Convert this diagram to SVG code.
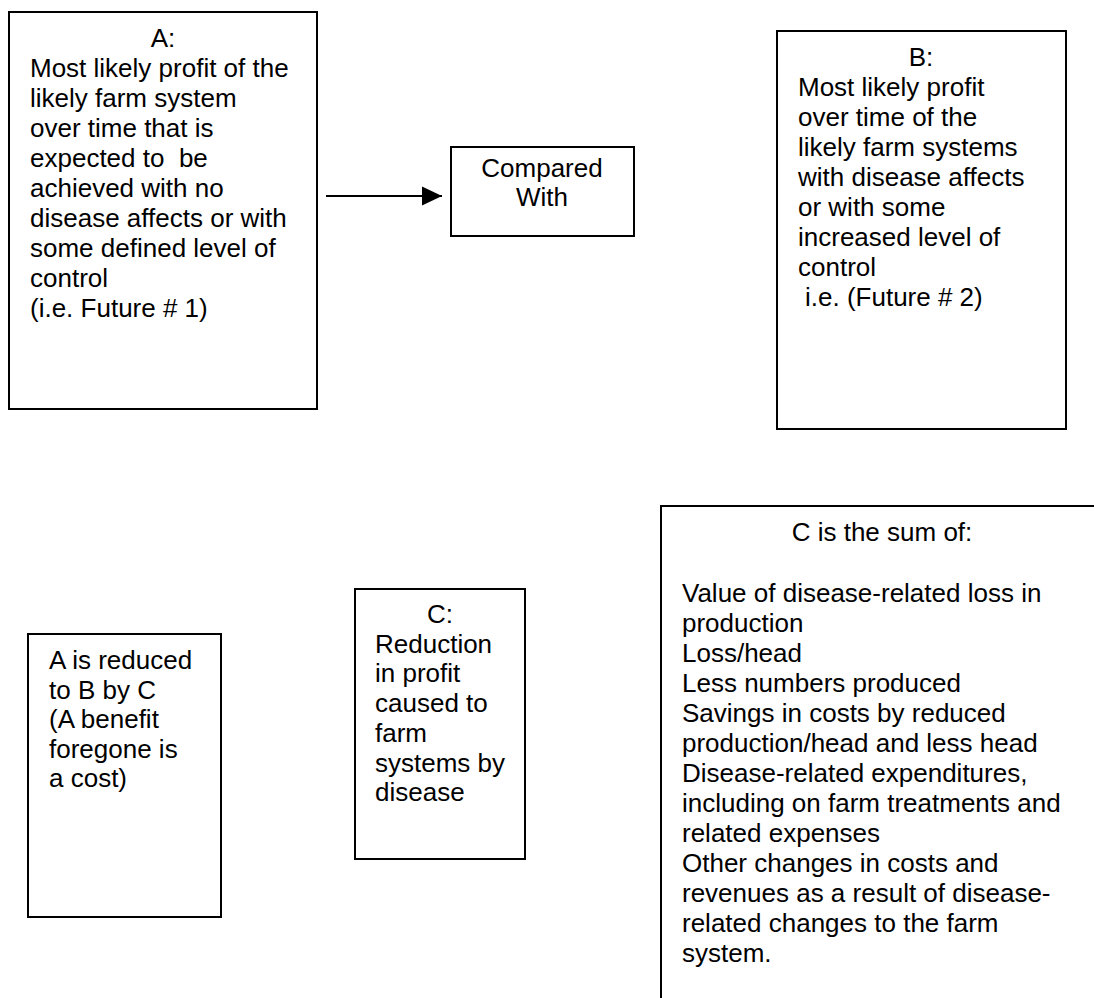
<svg xmlns="http://www.w3.org/2000/svg" width="1094" height="998" viewBox="0 0 1094 998">
<style>
.box{fill:#fff;stroke:#000;stroke-width:2}
.t{font-family:"Liberation Sans",Arial,sans-serif;font-size:26px;fill:#000}
.c{text-anchor:middle}
.conn{stroke:#000;stroke-width:2;fill:none}
</style>
<defs>
<marker id="arr" markerWidth="20" markerHeight="20" refX="20" refY="10" orient="auto" markerUnits="userSpaceOnUse">
<path d="M0,0.5 L20,10 L0,19.5 Z" fill="#000"/>
</marker>
</defs>
<rect width="1094" height="998" fill="#fff"/>
<g id="nodeA">
<rect class="box" x="9" y="12" width="308" height="397"/>
<text class="t c" x="163" y="47">A:</text>
<text class="t" x="30" y="77">Most likely profit of the</text>
<text class="t" x="30" y="107">likely farm system</text>
<text class="t" x="30" y="137">over time that is</text>
<text class="t" x="30" y="167" xml:space="preserve">expected to  be</text>
<text class="t" x="30" y="197">achieved with no</text>
<text class="t" x="30" y="227">disease affects or with</text>
<text class="t" x="30" y="257">some defined level of</text>
<text class="t" x="30" y="287">control</text>
<text class="t" x="30" y="317">(i.e. Future # 1)</text>
</g>
<g id="nodeCompared">
<rect class="box" x="451" y="147" width="183" height="89"/>
<text class="t c" x="542" y="177">Compared</text>
<text class="t c" x="542" y="206">With</text>
</g>
<g id="nodeB">
<rect class="box" x="777" y="31" width="289" height="398"/>
<text class="t c" x="921" y="66">B:</text>
<text class="t" x="798" y="96">Most likely profit</text>
<text class="t" x="798" y="126">over time of the</text>
<text class="t" x="798" y="156">likely farm systems</text>
<text class="t" x="798" y="186">with disease affects</text>
<text class="t" x="798" y="216">or with some</text>
<text class="t" x="798" y="246">increased level of</text>
<text class="t" x="798" y="276">control</text>
<text class="t" x="805" y="306">i.e. (Future # 2)</text>
</g>
<g id="nodeReduced">
<rect class="box" x="28" y="634" width="193" height="283"/>
<text class="t" x="49" y="669">A is reduced</text>
<text class="t" x="49" y="698.6">to B by C</text>
<text class="t" x="49" y="728.2">(A benefit</text>
<text class="t" x="49" y="757.8">foregone is</text>
<text class="t" x="49" y="787.4">a cost)</text>
</g>
<g id="nodeC">
<rect class="box" x="355" y="589" width="170" height="270"/>
<text class="t c" x="440" y="623">C:</text>
<text class="t" x="375" y="652.7">Reduction</text>
<text class="t" x="375" y="682.4">in profit</text>
<text class="t" x="375" y="712.1">caused to</text>
<text class="t" x="375" y="741.8">farm</text>
<text class="t" x="375" y="771.5">systems by</text>
<text class="t" x="375" y="801.2">disease</text>
</g>
<g id="nodeSum">
<rect class="box" x="661" y="506" width="442" height="520"/>
<text class="t c" x="882" y="541">C is the sum of:</text>
<text class="t" x="682" y="602">Value of disease-related loss in</text>
<text class="t" x="682" y="632">production</text>
<text class="t" x="682" y="662">Loss/head</text>
<text class="t" x="682" y="692">Less numbers produced</text>
<text class="t" x="682" y="722">Savings in costs by reduced</text>
<text class="t" x="682" y="752">production/head and less head</text>
<text class="t" x="682" y="782">Disease-related expenditures,</text>
<text class="t" x="682" y="812">including on farm treatments and</text>
<text class="t" x="682" y="842">related expenses</text>
<text class="t" x="682" y="872">Other changes in costs and</text>
<text class="t" x="682" y="902">revenues as a result of disease-</text>
<text class="t" x="682" y="932">related changes to the farm</text>
<text class="t" x="682" y="962">system.</text>
</g>
<g id="connectors">
<line class="conn" x1="326" y1="196" x2="442" y2="196" marker-end="url(#arr)"/>
</g>
</svg>
